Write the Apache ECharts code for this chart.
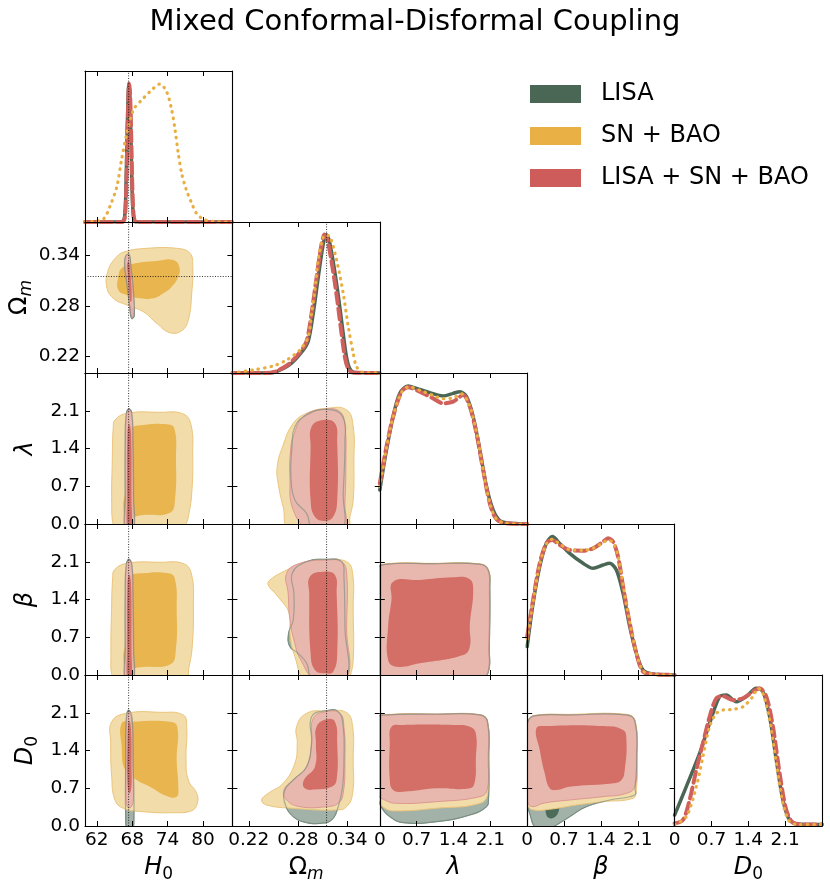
<!doctype html>
<html lang="en">
<head>
  <meta charset="UTF-8">
  <title>Mixed Conformal-Disformal Coupling</title>
  <script src="https://cdn.jsdelivr.net/npm/echarts@6/dist/echarts.min.js"></script>
  <style>
    html, body { margin: 0; padding: 0; background: #fff; }
    #chart { width: 830px; height: 893px; }
  </style>
</head>
<body>
<div id="chart"></div>
<script>
  // ---------- axes ----------
  var H0_RANGE = [60, 85];
  var OM_RANGE = [0.20, 0.38];
  var LAM_RANGE = [0, 2.8];
  var BETA_RANGE = [0, 2.8];
  var D0_RANGE = [0, 2.8];
  var PDF_RANGE = [0, 1.09];
  var H0_TICKS = [62, 68, 74, 80];
  var OM_TICKS = [0.22, 0.28, 0.34];
  var LAM_TICKS = [0, 0.7, 1.4, 2.1];
  var BETA_TICKS = [0, 0.7, 1.4, 2.1];
  var D0_TICKS = [0, 0.7, 1.4, 2.1];
  var FIDUCIAL_H0 = 67.4;
  var FIDUCIAL_OM = 0.315;
  var DATASETS = ['LISA', 'SN + BAO', 'LISA + SN + BAO'];

  // ---------- 1D marginals (normalised to peak 1) ----------
  var H0_LISA = [[60,0],[66.2,0],[66.7,0.03],[66.95,0.25],[67.15,0.65],[67.35,0.95],[67.45,1.0],[67.6,0.92],[67.8,0.6],[68.0,0.22],[68.25,0.03],[68.7,0],[85,0]];
  var H0_SN = [[60,0],[61.4,0.004],[63.1,0.02],[64.2,0.11],[65.4,0.255],[66.2,0.45],[67.1,0.64],[68.2,0.81],[69.6,0.88],[71.0,0.94],[72.7,0.996],[73.85,0.94],[74.7,0.81],[75.3,0.66],[75.8,0.5],[76.4,0.35],[77.2,0.23],[78.1,0.135],[78.9,0.063],[80.1,0.019],[81.8,0.004],[84.6,0],[85,0]];
  var H0_ALL = [[60,0],[66.3,0],[66.75,0.03],[67.0,0.25],[67.2,0.65],[67.4,0.95],[67.5,1.0],[67.65,0.92],[67.85,0.6],[68.05,0.22],[68.3,0.03],[68.7,0],[85,0]];

  var OM_LISA = [[0.20,0],[0.245,0],[0.254,0.01],[0.270,0.06],[0.2845,0.15],[0.2926,0.23],[0.2987,0.43],[0.3048,0.69],[0.3109,0.93],[0.3145,1.0],[0.318,0.96],[0.3232,0.80],[0.3293,0.56],[0.3354,0.28],[0.3395,0.11],[0.3435,0.03],[0.349,0.003],[0.38,0]];
  var OM_SN = [[0.20,0],[0.2254,0.022],[0.2499,0.051],[0.2662,0.094],[0.2824,0.166],[0.2926,0.262],[0.2967,0.431],[0.3008,0.599],[0.3048,0.816],[0.3109,0.984],[0.3135,0.995],[0.3191,0.984],[0.3272,0.816],[0.3353,0.575],[0.3415,0.334],[0.3476,0.142],[0.3516,0.046],[0.3598,0.004],[0.38,0]];
  var OM_ALL = [[0.20,0],[0.24,0],[0.252,0.01],[0.268,0.06],[0.2825,0.15],[0.2906,0.23],[0.2967,0.43],[0.3028,0.69],[0.3089,0.93],[0.3125,1.0],[0.316,0.96],[0.3212,0.80],[0.3273,0.56],[0.3334,0.28],[0.3375,0.11],[0.3415,0.03],[0.347,0.003],[0.38,0]];

  var LAM_LISA = [[0,0.245],[0.127,0.534],[0.253,0.775],[0.38,0.943],[0.538,0.996],[0.697,0.979],[0.95,0.948],[1.203,0.924],[1.393,0.943],[1.52,0.955],[1.647,0.919],[1.773,0.775],[1.9,0.534],[2.027,0.269],[2.153,0.101],[2.28,0.024],[2.47,0.005],[2.8,0]];
  var LAM_SN = [[0,0.27],[0.127,0.55],[0.253,0.775],[0.412,0.95],[0.55,0.99],[0.76,0.965],[1.0,0.93],[1.2,0.905],[1.393,0.91],[1.55,0.94],[1.7,0.86],[1.84,0.655],[1.963,0.39],[2.09,0.15],[2.217,0.035],[2.4,0.005],[2.8,0]];
  var LAM_ALL = [[0,0.294],[0.127,0.558],[0.253,0.775],[0.412,0.955],[0.538,0.987],[0.76,0.955],[1.013,0.907],[1.203,0.871],[1.393,0.883],[1.583,0.931],[1.71,0.847],[1.837,0.654],[1.963,0.39],[2.09,0.149],[2.217,0.034],[2.407,0.005],[2.8,0]];

  var BETA_LISA = [[0,0.205],[0.111,0.517],[0.238,0.782],[0.364,0.95],[0.478,0.999],[0.618,0.95],[0.808,0.878],[1.061,0.806],[1.251,0.77],[1.441,0.794],[1.568,0.806],[1.694,0.758],[1.821,0.59],[1.948,0.349],[2.074,0.156],[2.201,0.036],[2.391,0.007],[2.8,0]];
  var BETA_SN = [[0,0.26],[0.111,0.53],[0.238,0.8],[0.364,0.945],[0.478,0.98],[0.618,0.945],[0.808,0.905],[1.061,0.9],[1.251,0.915],[1.441,0.955],[1.536,0.975],[1.631,0.955],[1.726,0.86],[1.821,0.65],[1.948,0.38],[2.074,0.16],[2.201,0.03],[2.391,0.006],[2.8,0]];
  var BETA_ALL = [[0,0.277],[0.111,0.541],[0.238,0.806],[0.364,0.95],[0.478,0.975],[0.618,0.938],[0.808,0.902],[1.061,0.897],[1.251,0.914],[1.441,0.962],[1.536,0.987],[1.631,0.962],[1.726,0.854],[1.821,0.638],[1.948,0.373],[2.074,0.156],[2.201,0.024],[2.391,0.007],[2.8,0]];

  var D0_LISA = [[0,0.079],[0.222,0.284],[0.475,0.525],[0.665,0.741],[0.855,0.934],[0.982,0.946],[1.172,0.897],[1.362,0.934],[1.552,0.994],[1.678,0.97],[1.805,0.789],[1.932,0.476],[2.058,0.188],[2.185,0.043],[2.375,0.012],[2.8,0.01]];
  var D0_SN = [[0,0.01],[0.222,0.067],[0.412,0.284],[0.538,0.5],[0.665,0.717],[0.792,0.813],[0.918,0.837],[1.108,0.842],[1.298,0.861],[1.488,0.934],[1.583,0.994],[1.678,0.958],[1.805,0.765],[1.932,0.452],[2.058,0.164],[2.185,0.031],[2.375,0.01],[2.8,0.01]];
  var D0_ALL = [[0,0.019],[0.158,0.043],[0.285,0.188],[0.412,0.404],[0.538,0.597],[0.665,0.789],[0.792,0.922],[0.918,0.938],[1.108,0.91],[1.298,0.922],[1.488,0.97],[1.615,0.994],[1.742,0.934],[1.868,0.717],[1.995,0.38],[2.122,0.115],[2.248,0.024],[2.438,0.012],[2.8,0.01]];

  // ---------- 2D contours: [x, y] vertices, 95% and 68% levels ----------
  var OM_H0_LISA_95 = [[66.85,0.339],[67.5,0.3415],[67.8,0.327],[68.25,0.295],[68.35,0.268],[67.9,0.265],[67.6,0.278],[67.0,0.311],[66.72,0.327]];
  var OM_H0_SN_95 = [[66.78,0.3446],[70.46,0.3486],[75.55,0.3486],[77.81,0.3427],[78.27,0.3267],[78.10,0.2950],[77.52,0.2632],[76.40,0.2504],[74.42,0.2480],[72.16,0.2592],[69.89,0.2731],[67.07,0.2811],[64.80,0.2890],[63.68,0.3029],[63.95,0.3228],[65.38,0.3386]];
  var OM_H0_SN_68 = [[65.65,0.3148],[66.22,0.3248],[67.92,0.3299],[72.16,0.3335],[74.98,0.3347],[75.99,0.3267],[75.82,0.3148],[74.70,0.3029],[73.28,0.2950],[71.58,0.2890],[69.33,0.2890],[67.07,0.2930],[65.65,0.2990]];
  var OM_H0_ALL_95 = [[66.90,0.3386],[67.46,0.3407],[67.75,0.3267],[68.19,0.2950],[68.31,0.2691],[67.92,0.2664],[67.63,0.2790],[67.07,0.3109],[66.78,0.3267]];
  var OM_H0_ALL_68 = [[67.17,0.3308],[67.46,0.3327],[67.75,0.3148],[67.92,0.2870],[67.68,0.2850],[67.46,0.2990],[67.24,0.3188]];

  var LAM_H0_LISA_95 = [[66.95,2.0],[67.4,2.14],[67.95,2.05],[68.15,1.5],[68.25,0.5],[68.2,-0.15],[66.85,-0.15],[66.8,0.5],[66.8,1.5]];
  var LAM_H0_SN_95 = [[65.09,1.928],[67.07,2.052],[72.72,2.071],[76.67,2.040],[77.98,1.836],[78.27,1.311],[78.10,0.569],[77.52,0.135],[76.96,-0.05],[76.5,-0.15],[65.5,-0.15],[64.80,-0.02],[64.53,0.383],[64.63,1.187],[64.80,1.804]];
  var LAM_H0_SN_68 = [[67.80,1.774],[69.89,1.836],[73.86,1.849],[75.15,1.774],[75.43,1.187],[75.26,0.445],[74.42,0.210],[69.89,0.167],[67.07,0.148],[66.50,0.321],[66.78,0.569],[67.35,1.187],[67.52,1.619]];
  var LAM_H0_ALL_95 = [[67.0,2.0],[67.4,2.12],[67.9,2.05],[68.1,1.5],[68.2,0.5],[68.15,-0.15],[66.9,-0.15],[66.85,0.5],[66.85,1.5]];
  var LAM_H0_ALL_68 = [[67.2,1.7],[67.5,1.85],[67.8,1.7],[67.88,0.5],[67.85,-0.15],[67.2,-0.15],[67.15,0.5]];

  var BETA_H0_LISA_95 = [[66.95,2.0],[67.4,2.15],[67.95,2.05],[68.15,1.5],[68.25,0.5],[68.2,-0.15],[66.85,-0.15],[66.8,0.5],[66.8,1.5]];
  var BETA_H0_SN_95 = [[65.0,1.95],[67.07,2.07],[72.72,2.09],[76.8,2.06],[78.1,1.85],[78.38,1.3],[78.2,0.55],[77.6,0.12],[77.0,-0.15],[65.5,-0.15],[64.6,-0.02],[64.4,0.38],[64.5,1.19],[64.7,1.8]];
  var BETA_H0_SN_68 = [[67.8,1.84],[69.9,1.886],[73.9,1.89],[75.2,1.8],[75.55,1.19],[75.4,0.45],[74.5,0.2],[69.9,0.15],[67.07,0.154],[66.5,0.3],[66.8,0.57],[67.35,1.19],[67.5,1.65]];
  var BETA_H0_ALL_95 = [[67.0,2.0],[67.4,2.13],[67.9,2.05],[68.1,1.5],[68.2,0.5],[68.15,-0.15],[66.9,-0.15],[66.85,0.5],[66.85,1.5]];
  var BETA_H0_ALL_68 = [[67.2,1.7],[67.5,1.86],[67.8,1.7],[67.88,0.5],[67.85,-0.15],[67.2,-0.15],[67.15,0.5]];

  var D0_H0_LISA_95 = [[67.4,2.15],[68.0,2.0],[68.2,1.0],[68.3,0.2],[68.0,-0.1],[67.2,-0.1],[66.9,0.2],[66.9,1.2],[67.0,2.0]];
  var D0_H0_SN_95 = [[64.53,1.934],[67.07,2.090],[72.72,2.108],[76.67,2.058],[77.25,1.841],[77.13,1.224],[77.52,0.853],[78.94,0.606],[79.05,0.421],[78.10,0.284],[74.98,0.247],[69.89,0.265],[66.50,0.328],[65.09,0.482],[64.53,0.914],[64.36,1.533]];
  var D0_H0_SN_68 = [[66.22,1.904],[67.92,1.934],[74.42,1.934],[75.65,1.841],[75.55,1.224],[75.82,0.729],[75.55,0.543],[73.86,0.556],[71.02,0.729],[68.77,0.853],[66.78,1.038],[66.22,1.470]];
  var D0_H0_ALL_95 = [[67.4,2.12],[67.9,2.0],[68.15,1.2],[68.2,0.5],[67.8,0.35],[67.2,0.35],[66.95,0.6],[66.9,1.3],[67.0,1.95]];
  var D0_H0_ALL_68 = [[67.45,1.95],[67.8,1.8],[67.9,1.0],[67.85,0.7],[67.5,0.6],[67.2,0.8],[67.2,1.5]];

  var LAM_OM_LISA_95 = [[0.2763,1.804],[0.2906,2.021],[0.3150,2.126],[0.3346,1.99],[0.3374,1.496],[0.3353,0.569],[0.3333,-0.1],[0.2987,-0.1],[0.2906,0.198],[0.2763,0.445],[0.2715,0.877],[0.2728,1.434]];
  var LAM_OM_SN_95 = [[0.2743,1.867],[0.2906,2.052],[0.3150,2.145],[0.3395,2.114],[0.3475,1.804],[0.3484,1.187],[0.3475,0.445],[0.3435,0.135],[0.3402,-0.1],[0.2702,-0.1],[0.2620,0.321],[0.2559,0.754],[0.2547,1.063],[0.2613,1.434]];
  var LAM_OM_ALL_95 = [[0.2743,1.619],[0.2865,1.990],[0.3109,2.126],[0.3313,2.083],[0.3374,1.804],[0.3386,1.187],[0.3374,0.383],[0.3353,-0.1],[0.2946,-0.1],[0.2743,0.260],[0.2702,0.877],[0.2711,1.372]];
  var LAM_OM_ALL_68 = [[0.2967,1.804],[0.3109,1.928],[0.3252,1.867],[0.3280,1.496],[0.3280,0.445],[0.3231,0.135],[0.3130,0.056],[0.3008,0.135],[0.2955,0.445],[0.2955,1.434]];

  var BETA_OM_LISA_95 = [[0.2731,1.886],[0.2906,2.101],[0.3150,2.145],[0.3334,2.101],[0.3362,1.823],[0.3374,0.896],[0.3374,-0.1],[0.2987,-0.1],[0.2906,0.217],[0.2804,0.402],[0.2702,0.525],[0.2686,0.773],[0.2743,1.020],[0.2751,1.515]];
  var BETA_OM_SN_95 = [[0.2458,1.762],[0.2662,1.947],[0.2906,2.101],[0.3150,2.132],[0.3395,2.101],[0.3468,1.886],[0.3475,1.205],[0.3475,0.278],[0.3435,-0.05],[0.3420,-0.1],[0.2906,-0.1],[0.2763,0.340],[0.2702,0.773],[0.2694,1.144],[0.2540,1.483],[0.2437,1.669]];
  var BETA_OM_ALL_95 = [[0.2662,1.886],[0.2824,2.071],[0.3150,2.132],[0.3334,2.101],[0.3395,1.886],[0.3395,0.896],[0.3386,-0.1],[0.3028,-0.1],[0.2824,0.309],[0.2760,0.6],[0.2702,1.020],[0.2681,1.515]];
  var BETA_OM_ALL_68 = [[0.2946,1.823],[0.3109,1.916],[0.3252,1.854],[0.3273,1.515],[0.3280,0.402],[0.3231,0.062],[0.3130,0.031],[0.3008,0.093],[0.2955,0.402],[0.2938,1.515]];

  var D0_OM_LISA_95 = [[0.2967,2.027],[0.3150,2.138],[0.3292,2.120],[0.3353,1.841],[0.3362,1.224],[0.3346,0.729],[0.3292,0.358],[0.3211,0.111],[0.3069,0.049],[0.2906,0.062],[0.2743,0.173],[0.2641,0.421],[0.2641,0.668],[0.2743,0.853],[0.2906,1.100],[0.2967,1.533]];
  var D0_OM_SN_95 = [[0.2784,1.841],[0.2906,2.090],[0.3150,2.132],[0.3395,2.101],[0.3468,1.841],[0.3475,1.224],[0.3468,0.606],[0.3395,0.358],[0.3272,0.297],[0.2743,0.328],[0.2418,0.389],[0.2357,0.482],[0.2437,0.606],[0.2620,0.792],[0.2763,1.163],[0.2792,1.533]];
  var D0_OM_ALL_95 = [[0.2987,1.997],[0.3150,2.120],[0.3313,2.090],[0.3362,1.841],[0.3374,1.224],[0.3353,0.606],[0.3292,0.421],[0.3150,0.358],[0.2824,0.358],[0.2662,0.482],[0.2629,0.668],[0.2743,0.853],[0.2906,1.100],[0.2967,1.533]];
  var D0_OM_ALL_68 = [[0.3028,1.841],[0.3150,1.978],[0.3252,1.934],[0.3280,1.533],[0.3272,0.853],[0.3211,0.729],[0.3028,0.680],[0.2885,0.698],[0.2873,0.853],[0.3008,1.100],[0.3020,1.533]];

  var BETA_LAM_LISA_95 = [[-0.05,1.95],[0.1,2.05],[1.0,2.065],[1.9,2.055],[2.06,1.95],[2.09,1.6],[2.08,0.5],[2.06,0.05],[1.9,-0.08],[1.0,-0.08],[-0.05,-0.08]];
  var BETA_LAM_SN_95 = [[-0.05,1.96],[0.1,2.06],[1.0,2.07],[1.9,2.06],[2.06,1.96],[2.085,1.6],[2.075,0.5],[2.055,0.05],[1.9,-0.08],[1.0,-0.08],[-0.05,-0.08]];
  var BETA_LAM_ALL_95 = [[-0.05,1.95],[0.1,2.05],[1.0,2.06],[1.9,2.05],[2.05,1.95],[2.08,1.6],[2.07,0.5],[2.05,0.05],[1.9,-0.08],[1.0,-0.08],[0.1,-0.08],[-0.05,0.1],[-0.05,1.0]];
  var BETA_LAM_ALL_68 = [[0.253,1.730],[0.760,1.762],[1.393,1.811],[1.678,1.793],[1.773,1.637],[1.710,0.896],[1.710,0.525],[1.583,0.371],[0.760,0.217],[0.317,0.154],[0.158,0.278],[0.158,0.896],[0.222,1.391]];

  var D0_LAM_LISA_95 = [[-0.05,2.0],[0.127,2.06],[1.077,2.072],[1.9,2.06],[2.045,1.94],[2.07,1.224],[2.065,0.5],[2.027,0.358],[1.71,0.204],[1.077,0.08],[0.443,0.062],[0.19,0.173],[0.03,0.35],[-0.05,0.6],[-0.05,1.3]];
  var D0_LAM_SN_95 = [[-0.05,2.0],[0.127,2.065],[1.077,2.075],[1.9,2.065],[2.045,1.94],[2.065,1.224],[2.05,0.6],[1.9,0.42],[1.077,0.33],[0.317,0.28],[0.095,0.33],[-0.05,0.5],[-0.05,1.3]];
  var D0_LAM_ALL_95 = [[-0.05,1.997],[0.127,2.058],[1.077,2.071],[1.900,2.058],[2.039,1.934],[2.058,1.224],[2.039,0.668],[1.900,0.544],[1.077,0.451],[0.317,0.421],[0.095,0.482],[-0.05,0.606],[-0.05,1.3]];
  var D0_LAM_ALL_68 = [[0.222,1.841],[0.443,1.873],[1.393,1.873],[1.710,1.841],[1.824,1.719],[1.824,1.224],[1.805,0.822],[1.710,0.699],[1.077,0.699],[0.443,0.636],[0.253,0.668],[0.190,0.853],[0.190,1.533]];

  var D0_BETA_LISA_95 = [[0.016,1.94],[0.143,2.045],[0.808,2.06],[1.885,2.06],[2.048,1.94],[2.08,1.224],[2.05,0.7],[2.043,0.575],[1.568,0.482],[1.124,0.358],[0.808,0.173],[0.554,0.019],[0.4,-0.05],[0.174,-0.05],[0.047,0.235],[-0.05,0.6],[-0.05,1.5]];
  var D0_BETA_LISA_68 = [[0.17,1.8],[0.37,1.85],[1.44,1.85],[1.82,1.78],[1.88,1.6],[1.85,1.04],[1.79,0.85],[1.63,0.79],[0.81,0.73],[0.64,0.5],[0.6,0.28],[0.52,0.16],[0.42,0.15],[0.36,0.22],[0.34,0.5],[0.33,0.98],[0.24,1.4]];
  var D0_BETA_SN_95 = [[0.016,1.95],[0.143,2.05],[0.808,2.07],[1.885,2.07],[2.05,1.95],[2.09,1.224],[2.07,0.65],[2.01,0.514],[1.441,0.451],[0.935,0.39],[0.428,0.31],[0.111,0.3],[0.0,0.4],[-0.05,0.8],[-0.05,1.5]];
  var D0_BETA_ALL_95 = [[0.016,1.934],[0.143,2.040],[0.808,2.058],[1.885,2.058],[2.043,1.934],[2.074,1.224],[2.043,0.729],[1.885,0.606],[1.441,0.544],[0.808,0.482],[0.301,0.421],[0.111,0.358],[0.016,0.421],[-0.05,0.8],[-0.05,1.5]];
  var D0_BETA_ALL_68 = [[0.174,1.811],[0.365,1.854],[1.441,1.854],[1.820,1.780],[1.885,1.595],[1.853,1.038],[1.790,0.853],[1.631,0.791],[0.808,0.729],[0.554,0.668],[0.428,0.699],[0.333,0.977],[0.238,1.409]];

  // ---------- layout / styles ----------
  var FONT = 'DejaVu Sans';
  var X0 = 85, Y0 = 71, CELL_W = 147.4, CELL_H = 151;

  var STYLE = {
    'LISA':            {line: '#4a6756', width: 3.5, dash: 'solid', lz: 4, cz: 1, out: '#a2b2a8', inn: '#4d6b59', edge: '#768b7e', legend: '#4a6756'},
    'SN + BAO':        {line: '#e9ae40', width: 3.2, dash: [0.5, 6], lz: 6, cz: 2, out: '#f2dcaa', inn: '#e9b54f', edge: '#ebc57c', legend: '#e8b045'},
    'LISA + SN + BAO': {line: '#d0605b', width: 4, dash: [11, 5], lz: 5, cz: 3, out: '#e6b1af', inn: '#cf625b', edge: '#d98f8b', legend: '#cd5c5a'}
  };

  function intFmt(v) { return String(Math.round(v)); }
  function fix2(v) { return v.toFixed(2); }
  function fix1(v) { return v.toFixed(1); }
  function xFmt(v) { return v === 0 ? '0' : v.toFixed(1); }

  var PARAMS = [
    {range: H0_RANGE, ticks: H0_TICKS, label: '{i|H}{s|0}', fx: intFmt, fy: intFmt, gap: 44},
    {range: OM_RANGE, ticks: OM_TICKS, label: '{u|Ω}{si|m}', fx: fix2, fy: fix2, gap: 50},
    {range: LAM_RANGE, ticks: LAM_TICKS, label: '{i|λ}', fx: xFmt, fy: fix1, gap: 44},
    {range: BETA_RANGE, ticks: BETA_TICKS, label: '{i|β}', fx: xFmt, fy: fix1, gap: 44},
    {range: D0_RANGE, ticks: D0_TICKS, label: '{i|D}{s|0}', fx: xFmt, fy: fix1, gap: 44}
  ];
  var RICH = {
    i: {fontFamily: FONT, fontStyle: 'italic', fontSize: 24, lineHeight: 30, color: '#000'},
    u: {fontFamily: FONT, fontSize: 24, lineHeight: 30, color: '#000'},
    s: {fontFamily: FONT, fontSize: 17, lineHeight: 18, verticalAlign: 'bottom', color: '#000'},
    si: {fontFamily: FONT, fontStyle: 'italic', fontSize: 17, lineHeight: 18, verticalAlign: 'bottom', color: '#000'}
  };

  var DIAG = [
    [H0_LISA, H0_SN, H0_ALL],
    [OM_LISA, OM_SN, OM_ALL],
    [LAM_LISA, LAM_SN, LAM_ALL],
    [BETA_LISA, BETA_SN, BETA_ALL],
    [D0_LISA, D0_SN, D0_ALL]
  ];

  // each entry: row, col, then [95, 68] per dataset (null = not drawn)
  var PANELS = [
    [1, 0, [OM_H0_LISA_95, null], [OM_H0_SN_95, OM_H0_SN_68], [OM_H0_ALL_95, OM_H0_ALL_68]],
    [2, 0, [LAM_H0_LISA_95, null], [LAM_H0_SN_95, LAM_H0_SN_68], [LAM_H0_ALL_95, LAM_H0_ALL_68]],
    [3, 0, [BETA_H0_LISA_95, null], [BETA_H0_SN_95, BETA_H0_SN_68], [BETA_H0_ALL_95, BETA_H0_ALL_68]],
    [4, 0, [D0_H0_LISA_95, null], [D0_H0_SN_95, D0_H0_SN_68], [D0_H0_ALL_95, D0_H0_ALL_68]],
    [2, 1, [LAM_OM_LISA_95, null], [LAM_OM_SN_95, null], [LAM_OM_ALL_95, LAM_OM_ALL_68]],
    [3, 1, [BETA_OM_LISA_95, null], [BETA_OM_SN_95, null], [BETA_OM_ALL_95, BETA_OM_ALL_68]],
    [4, 1, [D0_OM_LISA_95, null], [D0_OM_SN_95, null], [D0_OM_ALL_95, D0_OM_ALL_68]],
    [3, 2, [BETA_LAM_LISA_95, null], [BETA_LAM_SN_95, null], [BETA_LAM_ALL_95, BETA_LAM_ALL_68]],
    [4, 2, [D0_LAM_LISA_95, null], [D0_LAM_SN_95, null], [D0_LAM_ALL_95, D0_LAM_ALL_68]],
    [4, 3, [D0_BETA_LISA_95, D0_BETA_LISA_68], [D0_BETA_SN_95, null], [D0_BETA_ALL_95, D0_BETA_ALL_68]]
  ];

  var grids = [], xAxes = [], yAxes = [], series = [];
  var gridOf = {};

  function makeAxis(p, g, pos, isX, labels, ticks, range, showName) {
    var ax = {
      type: 'value', gridIndex: g, position: pos, min: range[0], max: range[1], z: 10, silent: true,
      axisLine: {show: true, onZero: false, lineStyle: {color: '#000', width: 1.1}},
      axisTick: {show: ticks, inside: true, length: 5, customValues: p.ticks, lineStyle: {color: '#000', width: 1}},
      axisLabel: {show: labels, customValues: p.ticks, formatter: isX ? p.fx : p.fy,
        color: '#000', fontFamily: FONT, fontSize: 18.5, margin: 5},
      splitLine: {show: false}
    };
    if (showName) {
      ax.name = p.label;
      ax.nameLocation = 'middle';
      ax.nameGap = isX ? 27 : p.gap;
      ax.nameTextStyle = {rich: RICH};
    }
    return ax;
  }

  for (var r = 0; r < 5; r++) {
    for (var c = 0; c <= r; c++) {
      var g = grids.length;
      gridOf[r + '_' + c] = g;
      grids.push({left: X0 + c * CELL_W, top: Y0 + r * CELL_H, width: CELL_W, height: CELL_H,
        containLabel: false, outerBoundsMode: 'none'});
      var px = PARAMS[c], py = PARAMS[r];
      var bottom = r === 4;
      xAxes.push(makeAxis(px, g, 'bottom', true, bottom, true, px.range, bottom));
      xAxes.push(makeAxis(px, g, 'top', true, false, true, px.range, false));
      if (r === c) {
        yAxes.push(makeAxis(py, g, 'left', false, false, false, PDF_RANGE, false));
        yAxes.push(makeAxis(py, g, 'right', false, false, false, PDF_RANGE, false));
      } else {
        yAxes.push(makeAxis(py, g, 'left', false, c === 0, true, py.range, c === 0));
        yAxes.push(makeAxis(py, g, 'right', false, false, true, py.range, false));
      }
    }
  }

  function contour(name, pts, g, fill, edge, opacity, z, lw) {
    return {
      type: 'custom', name: name, coordinateSystem: 'cartesian2d',
      xAxisIndex: 2 * g, yAxisIndex: 2 * g, clip: true, silent: true, z: z,
      data: pts, encode: {x: 0, y: 1}, itemStyle: {color: fill || edge},
      renderItem: function (params, api) {
        if (params.dataIndex !== 0) return null;
        var poly = pts.map(function (p) { return api.coord(p); });
        return {
          type: 'polygon',
          shape: {points: poly, smooth: 0.45},
          style: {fill: fill || 'none', stroke: edge || null, lineWidth: edge ? (lw || 1) : 0, opacity: opacity}
        };
      }
    };
  }

  // filled 2D contours
  PANELS.forEach(function (pn) {
    var g = gridOf[pn[0] + '_' + pn[1]];
    DATASETS.forEach(function (name, k) {
      var s = STYLE[name], lv = pn[2 + k];
      var op = name === 'LISA + SN + BAO' ? 0.85 : 1;
      if (lv[0]) series.push(contour(name, lv[0], g, s.out, s.edge, op, s.cz));
      if (lv[1]) series.push(contour(name, lv[1], g, s.inn, null, op, s.cz));
    });
    // LISA outer boundary seen through the combined contours
    series.push(contour('LISA', pn[2][0], g, null, STYLE['LISA'].edge, 0.6, 3.5, 1.2));
  });

  // 1D marginals
  DIAG.forEach(function (curves, i) {
    var g = gridOf[i + '_' + i];
    DATASETS.forEach(function (name, k) {
      var s = STYLE[name];
      series.push({
        type: 'line', name: name, xAxisIndex: 2 * g, yAxisIndex: 2 * g, data: curves[k],
        showSymbol: false, smooth: 0.3, silent: true, clip: true, z: s.lz,
        itemStyle: {color: s.legend},
        lineStyle: {color: s.line, width: s.width, type: s.dash, cap: 'round'}
      });
    });
  });

  // fiducial dotted lines
  function refLine(g, pts) {
    series.push({
      type: 'line', xAxisIndex: 2 * g, yAxisIndex: 2 * g, data: pts, showSymbol: false,
      silent: true, z: 8, lineStyle: {color: '#000', width: 0.8, type: [1, 1.6]}
    });
  }
  for (var rr = 0; rr < 5; rr++) {
    var yr = rr === 0 ? PDF_RANGE : PARAMS[rr].range;
    refLine(gridOf[rr + '_0'], [[FIDUCIAL_H0, yr[0]], [FIDUCIAL_H0, yr[1]]]);
    if (rr >= 1) {
      var yr1 = rr === 1 ? PDF_RANGE : PARAMS[rr].range;
      refLine(gridOf[rr + '_1'], [[FIDUCIAL_OM, yr1[0]], [FIDUCIAL_OM, yr1[1]]]);
    }
  }
  refLine(gridOf['1_0'], [[H0_RANGE[0], FIDUCIAL_OM], [H0_RANGE[1], FIDUCIAL_OM]]);

  var chart = echarts.init(document.getElementById('chart'), null, {renderer: 'canvas'});
  chart.setOption({
    animation: false,
    backgroundColor: '#fff',
    textStyle: {fontFamily: FONT},
    title: {
      text: 'Mixed Conformal-Disformal Coupling', left: 'center', top: 3,
      textStyle: {fontFamily: FONT, fontSize: 29, fontWeight: 'normal', color: '#000'}
    },
    legend: {
      orient: 'vertical', left: 530, top: 82, padding: 0, itemWidth: 51, itemHeight: 18, itemGap: 18,
      selectedMode: false, icon: 'rect',
      textStyle: {fontFamily: FONT, fontSize: 24, color: '#000', lineHeight: 18, padding: [0, 0, 0, 15]},
      data: DATASETS.map(function (n) {
        return {name: n, icon: 'rect', itemStyle: {color: STYLE[n].legend, borderWidth: 0}};
      })
    },
    grid: grids,
    xAxis: xAxes,
    yAxis: yAxes,
    series: series
  });
</script>
</body>
</html>
